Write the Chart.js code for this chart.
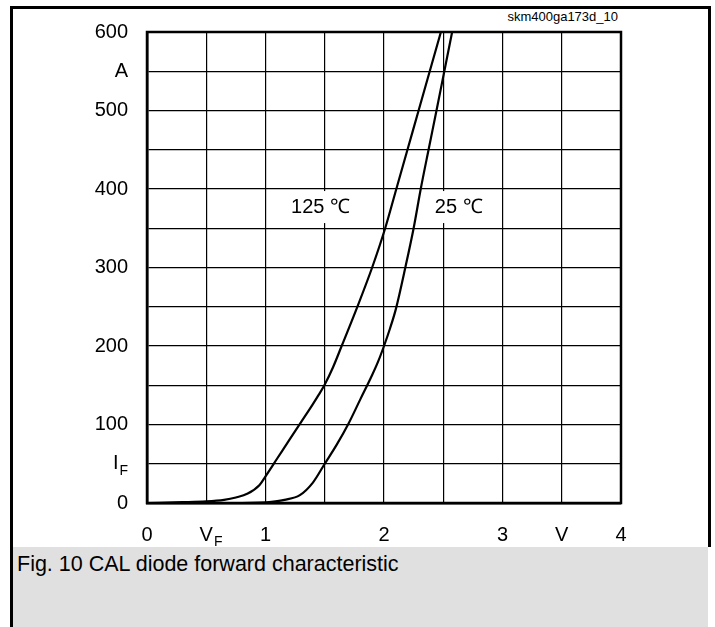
<!DOCTYPE html>
<html lang="en">
<head>
    <meta charset="UTF-8">
    <title>Fig. 10 CAL diode forward characteristic</title>
    <style>
        body { margin: 0; background: #fff; font-family: "Liberation Sans", Arial, sans-serif; }
        #page { position: relative; width: 715px; height: 627px; overflow: hidden; }
        #frame { position: absolute; left: 10px; top: 6px; width: 695px; height: 538px;
                 border-left: 3px solid #000; border-top: 3px solid #000; border-right: 3px solid #000; }
        #leftline { position: absolute; left: 10px; top: 547px; width: 3px; height: 80px; background: #000; }
        #caption { position: absolute; left: 13px; top: 547px; width: 695px; height: 80px; background: #e0e0e0; }
        #caption span { position: absolute; left: 4px; top: 5px; font-size: 21.5px; color: #000; }
        #code { position: absolute; right: 97px; top: 9px; font-size: 13px; color: #000; }
        canvas { position: absolute; left: 0; top: 0; }
    </style>
</head>
<body>
    <div id="page">
        <div id="frame"></div>
        <div id="leftline"></div>
        <div id="caption"><span>Fig. 10 CAL diode forward characteristic</span></div>
        <div id="code">skm400ga173d_10</div>
        <canvas id="chart" width="715" height="627"></canvas>
    </div>

    <script src="https://cdn.jsdelivr.net/npm/chart.js"></script>
    <script>
        // 125 °C curve (V, A)
        const vf125 = [0, 0.3, 0.5, 0.65, 0.75, 0.85, 0.95, 1.0, 1.1, 1.2, 1.3, 1.4, 1.45, 1.5, 1.57, 1.64, 1.77, 1.9, 2.01, 2.104, 2.198, 2.292, 2.386, 2.48];
        const if125 = [0, 1, 2, 4, 7, 12, 23, 34, 57, 80, 103, 126, 138, 151, 173, 199, 248, 300, 350, 400, 450, 500, 550, 600];

        // 25 °C curve (V, A)
        const vf25 = [0, 0.8, 0.95, 1.05, 1.16, 1.29, 1.4, 1.5, 1.6, 1.7, 1.8, 1.9, 1.95, 2.0, 2.05, 2.1, 2.18, 2.25, 2.31, 2.376, 2.443, 2.509, 2.575];
        const if25 = [0, 0, 0.5, 1.5, 4, 10, 26, 50, 74, 101, 132, 163, 180, 200, 222, 247, 300, 350, 400, 450, 500, 550, 600];

        // tick labels (main text + subscript)
        const xTickValues = [0, 0.5, 1, 2, 3, 3.5, 4];
        const xTickTexts  = ["0", "V", "1", "2", "3", "V", "4"];
        const xTickSubs   = ["", "F", "", "", "", "", ""];
        const yTickValues = [0, 50, 100, 200, 300, 400, 500, 550, 600];
        const yTickTexts  = ["0", "I", "100", "200", "300", "400", "500", "A", "600"];
        const yTickSubs   = ["", "F", "", "", "", "", "", "", ""];

        const curveNames = ["125 \u2103", "25 \u2103"];

        const toPoints = (xs, ys) => xs.map((v, i) => ({ x: v, y: ys[i] }));

        const FONT = '"Liberation Sans", Arial, sans-serif';

        const drawLabel = (ctx, px, py, text, sub, align) => {
            ctx.font = "20px " + FONT;
            const wMain = ctx.measureText(text).width;
            ctx.font = "14px " + FONT;
            const wSub = sub ? ctx.measureText(sub).width + 1 : 0;
            let left;
            if (align === "right") left = px - wMain - wSub;
            else left = px - wMain / 2;
            ctx.textAlign = "left";
            ctx.textBaseline = "middle";
            ctx.font = "20px " + FONT;
            ctx.fillText(text, left, py);
            if (sub) {
                ctx.font = "14px " + FONT;
                ctx.fillText(sub, left + wMain + 1, py + 7);
            }
        };

        const labelPlugin = {
            id: "labels",
            afterDraw(chart, args, opts) {
                const { ctx, chartArea, scales: { x, y } } = chart;
                ctx.save();
                ctx.fillStyle = "#000";

                // plot frame
                ctx.strokeStyle = "#000";
                ctx.lineWidth = 2.5;
                ctx.strokeRect(chartArea.left, chartArea.top, chartArea.width, chartArea.height);

                // y tick labels
                yTickValues.forEach((v, i) => {
                    drawLabel(ctx, chartArea.left - 19, y.getPixelForValue(v), yTickTexts[i], yTickSubs[i], "right");
                });
                // x tick labels
                xTickValues.forEach((v, i) => {
                    drawLabel(ctx, x.getPixelForValue(v), chartArea.bottom + 32, xTickTexts[i], xTickSubs[i], "center");
                });

                // curve labels on white boxes
                opts.curveLabels.forEach((c, i) => {
                    const px = x.getPixelForValue(c.x);
                    const py = y.getPixelForValue(c.y);
                    ctx.fillStyle = "#fff";
                    ctx.fillRect(px - c.w / 2, py - 16, c.w, 32);
                    ctx.fillStyle = "#000";
                    ctx.font = "20px " + FONT;
                    ctx.textAlign = "center";
                    ctx.textBaseline = "middle";
                    ctx.fillText(curveNames[i], px, py);
                });
                ctx.restore();
            }
        };

        const ctx = document.getElementById("chart").getContext("2d");

        new Chart(ctx, {
            type: "scatter",
            data: {
                datasets: [
                    {
                        label: curveNames[0],
                        data: toPoints(vf125, if125),
                        showLine: true,
                        borderColor: "#000",
                        borderWidth: 2.2,
                        pointRadius: 0,
                        cubicInterpolationMode: "monotone",
                    },
                    {
                        label: curveNames[1],
                        data: toPoints(vf25, if25),
                        showLine: true,
                        borderColor: "#000",
                        borderWidth: 2.2,
                        pointRadius: 0,
                        cubicInterpolationMode: "monotone",
                    },
                ],
            },
            options: {
                responsive: false,
                animation: false,
                layout: { padding: { left: 147, top: 32, right: 94, bottom: 124 } },
                plugins: {
                    legend: { display: false },
                    tooltip: { enabled: false },
                    labels: {
                        curveLabels: [
                            { x: 1.464, y: 377, w: 80 },
                            { x: 2.63, y: 377, w: 72 },
                        ],
                    },
                },
                scales: {
                    x: {
                        type: "linear",
                        min: 0,
                        max: 4,
                        ticks: { stepSize: 0.5, display: false },
                        grid: { color: "#000", lineWidth: 1.2, drawTicks: false },
                        border: { color: "#000", width: 2.5 },
                    },
                    y: {
                        type: "linear",
                        min: 0,
                        max: 600,
                        ticks: { stepSize: 50, display: false },
                        grid: { color: "#000", lineWidth: 1.2, drawTicks: false },
                        border: { color: "#000", width: 2.5 },
                    },
                },
            },
            plugins: [labelPlugin],
        });
    </script>
</body>
</html>
